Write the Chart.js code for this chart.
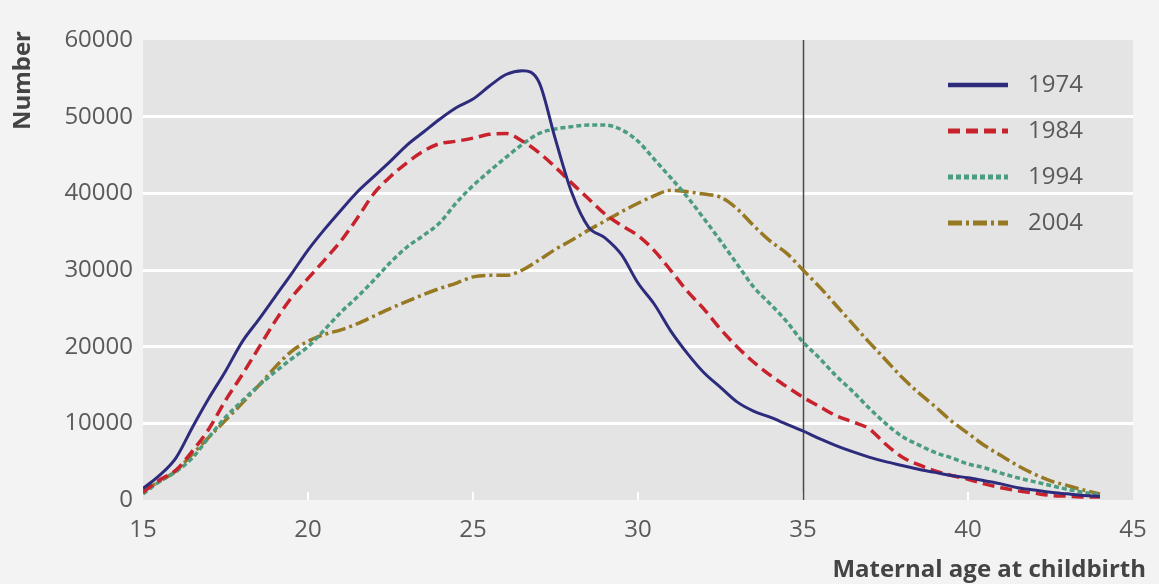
<!DOCTYPE html>
<html>
<head>
<meta charset="utf-8">
<title>Maternal age at childbirth</title>
<script src="https://cdn.jsdelivr.net/npm/chart.js@4.4.0/dist/chart.umd.min.js"></script>
<style>
    html, body { margin: 0; padding: 0; background: #f3f3f3; }
    #wrap { width: 1159px; height: 584px; position: relative; }
</style>
</head>
<body>
<div id="wrap"><canvas id="chart" width="1159" height="584"></canvas></div>
<script>
// Maternal age (years) at which each curve was read
const ages = [15, 15.5, 16, 16.5, 17, 17.5, 18, 18.5, 19, 19.5,
              20, 20.5, 21, 21.5, 22, 22.5, 23, 23.5, 24, 24.5,
              25, 25.5, 26, 26.5, 27, 27.5, 28, 28.5, 29, 29.5,
              30, 30.5, 31, 31.5, 32, 32.5, 33, 33.5, 34, 34.5,
              35, 35.5, 36, 36.5, 37, 37.5, 38, 38.5, 39, 39.5,
              40, 40.5, 41, 41.5, 42, 42.5, 43, 43.5, 44];

// Number of births by maternal age, one array per year
const births1974 = [1500, 3200, 5500, 9500, 13300, 16800, 20600, 23500, 26500, 29500,
                    32600, 35300, 37800, 40200, 42200, 44200, 46300, 48000, 49700, 51200,
                    52300, 54000, 55500, 56000, 54500, 47000, 40000, 35600, 34200, 32000,
                    28300, 25500, 22000, 19100, 16600, 14700, 12800, 11600, 10800, 9900,
                    9000, 8000, 7100, 6300, 5600, 5000, 4500, 4000, 3600, 3200,
                    2900, 2500, 2100, 1600, 1300, 1000, 800, 600, 500];
const births1984 = [1000, 2600, 3900, 6400, 9300, 13000, 16300, 19800, 23300, 26400,
                    28900, 31300, 33800, 36800, 40000, 42200, 44000, 45500, 46500, 46800,
                    47200, 47700, 47800, 46800, 45300, 43400, 41300, 39300, 37300, 35800,
                    34500, 32500, 29900, 27200, 24900, 22300, 20000, 18000, 16300, 14800,
                    13400, 12200, 11000, 10200, 9300, 7300, 5600, 4600, 3800, 3200,
                    2700, 2100, 1600, 1200, 900, 600, 500, 400, 400];
const births1994 = [800, 2400, 3700, 5500, 8200, 10800, 12900, 14900, 16700, 18400,
                    20000, 22200, 24500, 26500, 28700, 31000, 33000, 34500, 36200, 38800,
                    41000, 42900, 44700, 46400, 47800, 48400, 48700, 48900, 48900, 48300,
                    46800, 44400, 42000, 39500, 36700, 33800, 30800, 27800, 25600, 23300,
                    20600, 18500, 16200, 14200, 12000, 10000, 8300, 7200, 6200, 5500,
                    4700, 4200, 3500, 2900, 2400, 1900, 1400, 1000, 700];
const births2004 = [1200, 2400, 3800, 6000, 8200, 10400, 12600, 14900, 17300, 19400,
                    20700, 21600, 22200, 23000, 24000, 25000, 25900, 26800, 27600, 28300,
                    29100, 29300, 29300, 30000, 31300, 32700, 33900, 35200, 36400, 37600,
                    38700, 39700, 40400, 40200, 39900, 39500, 38000, 35800, 33800, 32200,
                    30000, 27800, 25400, 23000, 20600, 18300, 16000, 14000, 12200, 10300,
                    8700, 7100, 5800, 4500, 3400, 2500, 1900, 1300, 800];

const seriesLabels = ['1974', '1984', '1994', '2004'];
const xTickValues = [15, 20, 25, 30, 35, 40, 45];
const yTickValues = [0, 10000, 20000, 30000, 40000, 50000, 60000];
const markerAge = 35;

const FONT = "'Open Sans', 'DejaVu Sans', sans-serif";

function points(values) {
    return ages.map((a, i) => ({ x: a, y: values[i] }));
}

// Plot area fill, reference line at 35 and small white ticks on the base
const backdropPlugin = {
    id: 'backdrop',
    beforeDraw(chart) {
        const { ctx, chartArea: a } = chart;
        ctx.save();
        ctx.fillStyle = '#e4e4e4';
        ctx.fillRect(a.left, a.top, a.right - a.left, a.bottom - a.top);
        ctx.restore();
    },
    beforeDatasetsDraw(chart) {
        const { ctx, chartArea: a, scales } = chart;
        ctx.save();
        ctx.strokeStyle = '#ffffff';
        ctx.lineWidth = 2;
        xTickValues.forEach(v => {
            if (v === xTickValues[0] || v === xTickValues[xTickValues.length - 1]) return;
            const x = scales.x.getPixelForValue(v);
            ctx.beginPath();
            ctx.moveTo(x, a.bottom);
            ctx.lineTo(x, a.bottom - 8);
            ctx.stroke();
        });
        const mx = Math.round(scales.x.getPixelForValue(markerAge)) + 0.5;
        ctx.strokeStyle = '#4a4a4a';
        ctx.lineWidth = 1.5;
        ctx.beginPath();
        ctx.moveTo(mx, a.top);
        ctx.lineTo(mx, a.bottom);
        ctx.stroke();
        ctx.restore();
    }
};

// Legend inside the plot, top right, plus the two axis titles
const legendPlugin = {
    id: 'insideLegend',
    afterDraw(chart) {
        const { ctx, chartArea: a } = chart;
        ctx.save();
        chart.data.datasets.forEach((ds, i) => {
            const y = a.top + 45 + i * 46;
            const x0 = a.right - 185;
            ctx.strokeStyle = ds.borderColor;
            ctx.lineWidth = ds.borderWidth + 1.5;
            ctx.setLineDash(ds.borderDash || []);
            ctx.beginPath();
            ctx.moveTo(x0, y);
            ctx.lineTo(x0 + 60, y);
            ctx.stroke();
            ctx.setLineDash([]);
            ctx.fillStyle = '#5a5a5a';
            ctx.font = '24px ' + FONT;
            ctx.textAlign = 'left';
            ctx.textBaseline = 'middle';
            ctx.fillText(ds.label, x0 + 80, y);
        });

        ctx.fillStyle = '#444';
        ctx.font = 'bold 24px ' + FONT;
        ctx.textAlign = 'right';
        ctx.textBaseline = 'alphabetic';
        ctx.fillText('Maternal age at childbirth', 1146, 577);

        ctx.translate(30, 31);
        ctx.rotate(-Math.PI / 2);
        ctx.fillText('Number', 0, 0);
        ctx.restore();
    }
};

const ctx = document.getElementById('chart').getContext('2d');
const chart = new Chart(ctx, {
    type: 'line',
    data: {
        datasets: [
            {
                label: seriesLabels[0],
                data: points(births1974),
                borderColor: '#2c2b7c',
                borderWidth: 3,
                pointRadius: 0,
                cubicInterpolationMode: 'monotone'
            },
            {
                label: seriesLabels[1],
                data: points(births1984),
                borderColor: '#c8222c',
                borderWidth: 3.5,
                borderDash: [12, 6],
                pointRadius: 0,
                cubicInterpolationMode: 'monotone'
            },
            {
                label: seriesLabels[2],
                data: points(births1994),
                borderColor: '#4c9c80',
                borderWidth: 3.5,
                borderDash: [5, 3],
                pointRadius: 0,
                cubicInterpolationMode: 'monotone'
            },
            {
                label: seriesLabels[3],
                data: points(births2004),
                borderColor: '#977823',
                borderWidth: 3.5,
                borderDash: [14, 4, 3, 4],
                pointRadius: 0,
                cubicInterpolationMode: 'monotone'
            }
        ]
    },
    options: {
        responsive: false,
        animation: false,
        devicePixelRatio: 1,
        layout: { padding: { top: 40, right: 26, left: 0, bottom: 0 } },
        plugins: {
            legend: { display: false },
            tooltip: { enabled: false }
        },
        scales: {
            x: {
                type: 'linear',
                min: 15,
                max: 45,
                afterBuildTicks: scale => { scale.ticks = xTickValues.map(v => ({ value: v })); },
                afterFit: scale => {
                    scale.height = 84;
                    scale.paddingLeft = 0;
                    scale.paddingRight = 0;
                },
                grid: { display: false, drawTicks: false },
                border: { display: false },
                ticks: {
                    padding: 16,
                    color: '#5a5a5a',
                    font: { size: 24, family: FONT },
                    maxRotation: 0
                }
            },
            y: {
                min: 0,
                max: 60000,
                afterBuildTicks: scale => { scale.ticks = yTickValues.map(v => ({ value: v })); },
                afterFit: scale => { scale.width = 143; },
                grid: {
                    drawTicks: false,
                    lineWidth: 3,
                    color: c => (c.tick && (c.tick.value === 0 || c.tick.value === 60000)) ? 'rgba(0,0,0,0)' : '#ffffff'
                },
                border: { display: false },
                ticks: {
                    padding: 10,
                    color: '#5a5a5a',
                    font: { size: 24, family: FONT },
                    callback: v => String(v)
                }
            }
        }
    },
    plugins: [backdropPlugin, legendPlugin]
});
</script>
</body>
</html>
